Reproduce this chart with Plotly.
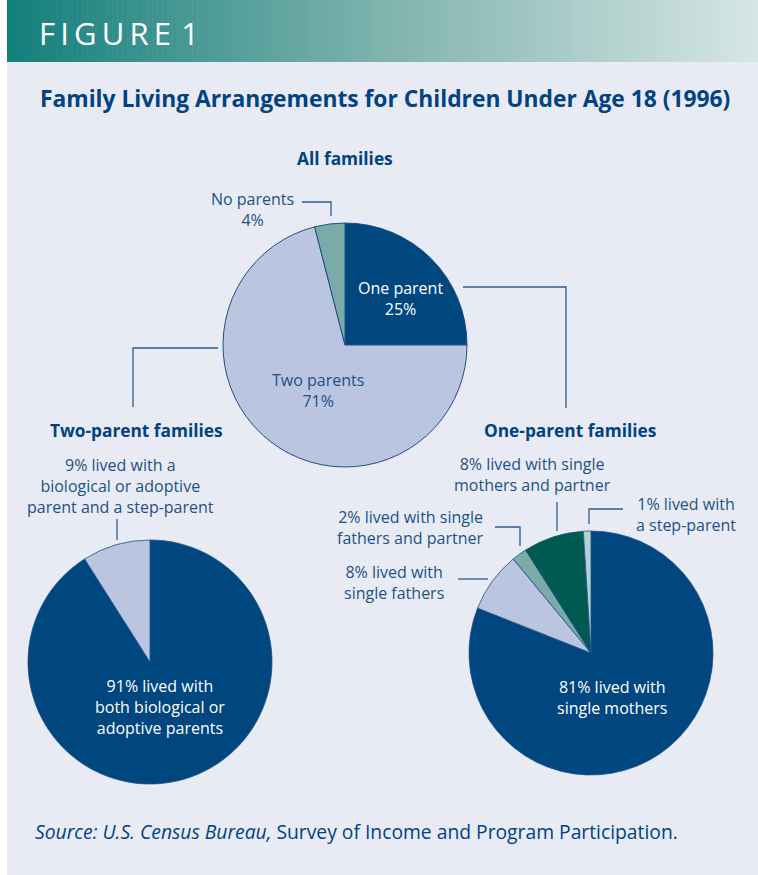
import plotly.graph_objects as go

W, H = 758, 875

# ---------------- data ----------------
all_labels = ["One parent", "Two parents", "No parents"]
all_values = [25, 71, 4]

two_labels = ["Both biological or adoptive parents", "Biological or adoptive parent and a step-parent"]
two_values = [91, 9]

one_labels = ["Single mothers", "Single fathers", "Single fathers and partner",
              "Single mothers and partner", "Step-parent"]
one_values = [81, 8, 2, 8, 1]

# ---------------- style ----------------
DARK = "#00467f"
LIGHT = "#bcc5df"
TEAL = "#7aaba8"
GREEN = "#005a50"
PALE = "#b3d3cf"
TXT = "#1d5189"
TITLE = "#004283"
BG = "#e8ebf3"
LINE = "#2b5c93"
FONT = "Open Sans"
LBL = 16


def X(p):
    return p / W


def Y(p):
    return 1 - p / H


def dom(cx, cy, r):
    return dict(x=[X(cx - r), X(cx + r)], y=[Y(cy + r), Y(cy - r)])


fig = go.Figure()

pie_common = dict(sort=False, direction="clockwise", rotation=0, textinfo="none",
                  hoverinfo="label+percent", showlegend=False)

fig.add_trace(go.Pie(labels=all_labels, values=all_values, domain=dom(345, 345, 122),
                     marker=dict(colors=[DARK, LIGHT, TEAL], line=dict(color="#1c4f8a", width=1)),
                     **pie_common))
fig.add_trace(go.Pie(labels=two_labels, values=two_values, domain=dom(150, 662, 122),
                     marker=dict(colors=[DARK, LIGHT], line=dict(color="#1c4f8a", width=0.8)),
                     **pie_common))
fig.add_trace(go.Pie(labels=one_labels, values=one_values, domain=dom(591, 653, 122),
                     marker=dict(colors=[DARK, LIGHT, TEAL, GREEN, PALE], line=dict(color="#1c4f8a", width=0.8)),
                     **pie_common))

shapes = []
# background panel
shapes.append(dict(type="rect", xref="paper", yref="paper", x0=X(7), x1=1, y0=0, y1=1,
                   fillcolor=BG, line=dict(width=0), layer="below"))
# gradient header built from thin strips
stops = [(0.0, (18, 127, 123)), (0.5, (127, 179, 174)), (1.0, (214, 230, 228))]


def grad(t):
    for (t0, c0), (t1, c1) in zip(stops[:-1], stops[1:]):
        if t0 <= t <= t1:
            f = (t - t0) / (t1 - t0)
            return "rgb(%d,%d,%d)" % tuple(round(a + (b - a) * f) for a, b in zip(c0, c1))
    return "rgb(%d,%d,%d)" % stops[-1][1]


n = 150
x_start, x_end = 7, W
for i in range(n):
    a = x_start + (x_end - x_start) * i / n
    b = x_start + (x_end - x_start) * (i + 1) / n + 0.6
    shapes.append(dict(type="rect", xref="paper", yref="paper", x0=X(a), x1=X(min(b, W)),
                       y0=Y(62), y1=1, fillcolor=grad((i + 0.5) / n),
                       line=dict(width=0), layer="below"))


def path(pts):
    d = "M " + " L ".join("%f,%f" % (X(px), Y(py)) for px, py in pts)
    return dict(type="path", xref="paper", yref="paper", path=d,
                line=dict(color=LINE, width=1.3))


shapes += [
    path([(302, 202), (331, 202), (331, 216)]),
    path([(463, 287), (566, 287), (566, 408)]),
    path([(218, 348), (133, 348), (133, 407)]),
    path([(117, 519), (117, 540)]),
    path([(458, 579), (488, 579)]),
    path([(495, 527), (520, 527), (520, 546)]),
    path([(557, 502), (557, 531)]),
    path([(623, 509), (589, 509), (589, 524)]),
]

ann = []


def text(x, y, s, size=LBL, color=TXT, bold=False, xanchor="center", align="center"):
    ann.append(dict(x=X(x), y=Y(y), xref="paper", yref="paper", text=s, showarrow=False,
                    xanchor=xanchor, yanchor="middle", align=align,
                    font=dict(family=FONT, size=size, color=color,
                              weight=700 if bold else 400)))


text(37, 33, "F\u2009I\u2009G\u2009U\u2009R\u2009E\u2009\u20091", size=31, color="white", xanchor="left")
text(385, 99, "Family Living Arrangements for Children Under Age 18 (1996)", size=22.8, color=TITLE, bold=True)
text(345, 158, "All families", size=17.3, color=TITLE, bold=True)
text(136, 430, "Two-parent families", size=17.3, color=TITLE, bold=True)
text(570, 430, "One-parent families", size=17.3, color=TITLE, bold=True)

text(252, 209, f"{all_labels[2]}<br>{all_values[2]}%")
text(400, 299, f"{all_labels[0]}<br>{all_values[0]}%", color="white")
text(318, 390, f"{all_labels[1]}<br>{all_values[1]}%")

text(120, 486, f"{two_values[1]}% lived with a<br>biological or adoptive<br>parent and a step-parent")
text(160, 707, f"{two_values[0]}% lived with<br>both biological or<br>adoptive parents", color="white")

text(612, 697, f"{one_values[0]}% lived with<br>single mothers", color="white")
text(394, 582, f"{one_values[1]}% lived with<br>single fathers")
text(485, 527, f"{one_values[2]}% lived with single<br>fathers and partner", xanchor="right", align="right")
text(532, 474, f"{one_values[3]}% lived with single<br>mothers and partner")
text(686, 514, f"{one_values[4]}% lived with<br>a step-parent")

text(33, 831, "<i>Source: U.S. Census Bureau,</i> Survey of Income and Program Participation.",
     size=19.3, color=TITLE, xanchor="left", align="left")

fig.update_layout(width=W, height=H, margin=dict(l=0, r=0, t=0, b=0),
                  paper_bgcolor="white", plot_bgcolor="white",
                  shapes=shapes, annotations=ann, showlegend=False)

fig.write_html("out.html", config={"displayModeBar": False},
               post_script="document.body.style.margin='0';document.body.style.overflow='hidden';")
